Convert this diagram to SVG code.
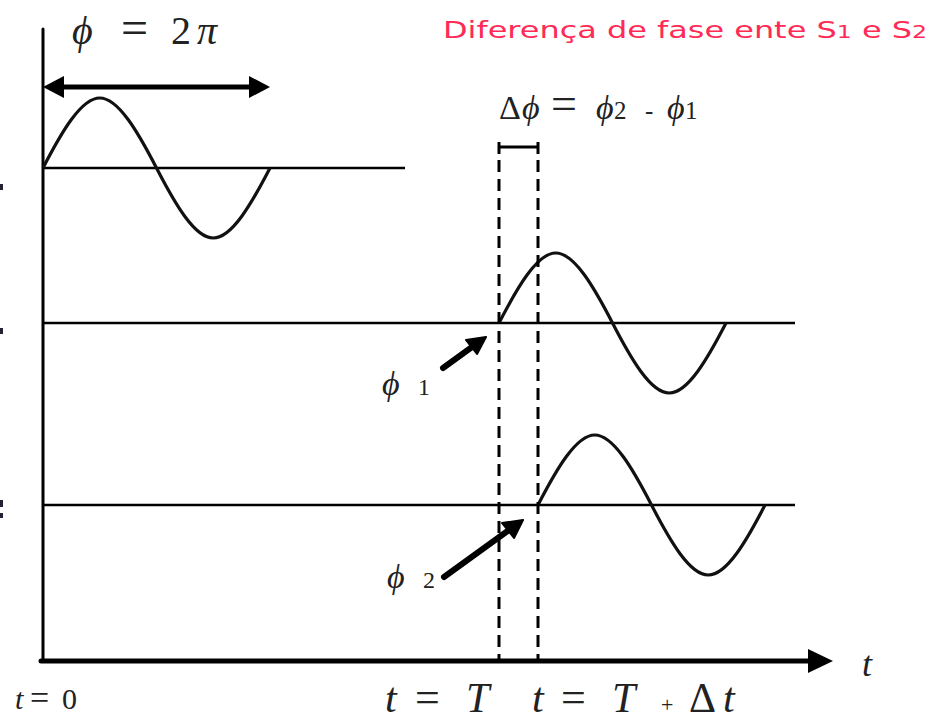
<svg xmlns="http://www.w3.org/2000/svg" xmlns:xlink="http://www.w3.org/1999/xlink" width="945" height="724" viewBox="0 0 945 724">
<style>
.ax{stroke:#000;fill:none;stroke-linecap:round}
.wave{stroke:#111;stroke-width:3.2;fill:none;stroke-linejoin:round}
.base{stroke:#000;stroke-width:2.6}
.dash{stroke:#000;stroke-width:3;stroke-dasharray:12 7}
.m{font-family:"Liberation Serif","DejaVu Serif",serif;fill:#222}
.i{font-style:italic}
.red{font-family:"DejaVu Sans","Liberation Sans",sans-serif;fill:#ff2a55;font-size:23px}
</style>
<defs>
<path id="sine" d="M0,0 C18.53,-35.9 38.22,-70 56.75,-70 C75.28,-70 94.97,-35.9 113.5,0 C132.03,35.9 151.72,70 170.25,70 C188.78,70 208.47,35.9 227,0"/>
</defs>

<g id="axes">
<line class="ax" x1="43" y1="29" x2="43" y2="661" stroke-width="3"/>
<line class="ax" x1="41" y1="661" x2="812" y2="661" stroke-width="5"/>
<path d="M808,649 L833,661 L808,673 z" fill="#000"/>
</g>

<g id="wave-ref">
<line class="base" x1="43" y1="168" x2="405" y2="168"/>
<use xlink:href="#sine" class="wave" transform="translate(43,168)"/>
</g>

<g id="wave-s1">
<line class="base" x1="43" y1="323" x2="795" y2="323"/>
<use xlink:href="#sine" class="wave" transform="translate(499,323)"/>
</g>

<g id="wave-s2">
<line class="base" x1="43" y1="505" x2="795" y2="505"/>
<use xlink:href="#sine" class="wave" transform="translate(538,505)"/>
</g>

<g id="connectors">
<line x1="60" y1="87" x2="252" y2="87" stroke="#000" stroke-width="5"/>
<path d="M43,87 L64,76 L64,98 z" fill="#000"/>
<path d="M270,87 L249,76 L249,98 z" fill="#000"/>
<line class="dash" x1="499" y1="160" x2="499" y2="661"/>
<line class="dash" x1="538" y1="160" x2="538" y2="661"/>
<line x1="499" y1="147" x2="538" y2="147" stroke="#000" stroke-width="3"/>
<line x1="499" y1="142" x2="499" y2="154" stroke="#000" stroke-width="3"/>
<line x1="538" y1="142" x2="538" y2="154" stroke="#000" stroke-width="3"/>
<line x1="443" y1="368" x2="472" y2="347" stroke="#000" stroke-width="6" stroke-linecap="round"/>
<path d="M486,337 L466,340 L477,354 z" fill="#000" stroke="#000" stroke-width="2" stroke-linejoin="round"/>
<line x1="444" y1="577" x2="509" y2="530" stroke="#000" stroke-width="6" stroke-linecap="round"/>
<path d="M523,520 L502,523 L514,538 z" fill="#000" stroke="#000" stroke-width="2" stroke-linejoin="round"/>
</g>

<g id="edge-marks" fill="#223">
<rect x="0" y="184" width="3" height="6"/>
<rect x="0" y="328" width="3" height="6"/>
<rect x="0" y="500" width="3" height="7"/>
<rect x="0" y="513" width="3" height="5"/>
</g>

<g id="labels">
<text class="m" font-size="40" y="44"><tspan class="i" x="72">ϕ</tspan><tspan x="121" font-size="48">=</tspan><tspan x="171">2</tspan><tspan class="i" x="197">π</tspan></text>
<text class="red" x="443" y="38" textLength="484" lengthAdjust="spacingAndGlyphs">Diferença de fase ente S<tspan font-size="17">1</tspan> e S<tspan font-size="17">2</tspan></text>
<text class="m" font-size="34" y="119"><tspan x="499">Δ</tspan><tspan class="i" x="522">ϕ</tspan><tspan x="551" font-size="46">=</tspan><tspan class="i" x="596">ϕ</tspan><tspan x="614" font-size="25">2</tspan><tspan x="645" font-size="25">-</tspan><tspan class="i" x="667">ϕ</tspan><tspan x="685" font-size="25">1</tspan></text>
<text class="m" font-size="34" y="395"><tspan class="i" x="382">ϕ</tspan><tspan x="418" font-size="24">1</tspan></text>
<text class="m" font-size="34" y="588"><tspan class="i" x="387">ϕ</tspan><tspan x="423" font-size="24">2</tspan></text>
<text class="m i" font-size="36" x="862" y="676">t</text>
<text class="m" font-size="30" y="709"><tspan class="i" x="15">t</tspan><tspan x="30" font-size="34">=</tspan><tspan x="62">0</tspan></text>
<text class="m" font-size="42" y="712"><tspan class="i" x="385">t</tspan><tspan x="415" font-size="44">=</tspan><tspan class="i" x="466">T</tspan><tspan class="i" x="532">t</tspan><tspan x="561" font-size="44">=</tspan><tspan class="i" x="612">T</tspan><tspan x="661" font-size="22">+</tspan><tspan x="689">Δ</tspan><tspan class="i" x="723">t</tspan></text>
</g>
</svg>
